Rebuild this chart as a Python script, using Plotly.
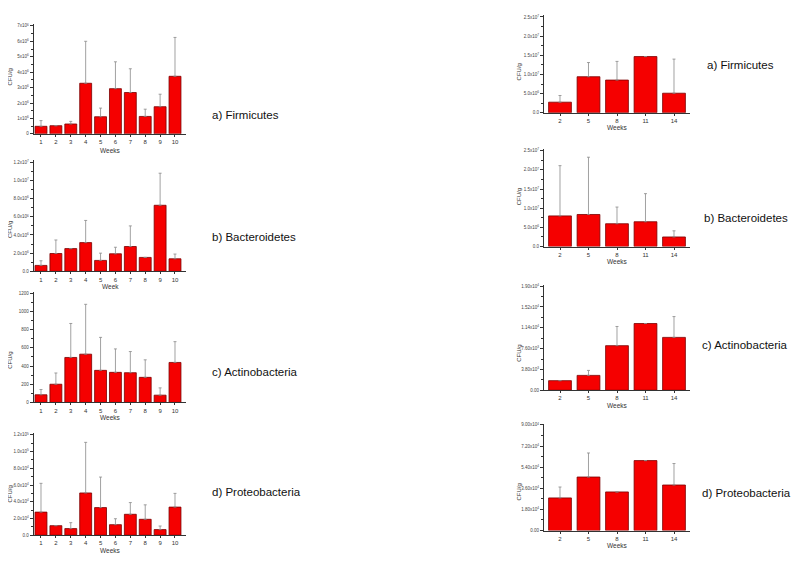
import plotly.graph_objects as go

# ---------------- data ----------------
weeks_left = [1, 2, 3, 4, 5, 6, 7, 8, 9, 10]
weeks_right = [2, 5, 8, 11, 14]

# left column (values in units of the tick multiplier)
firm_left = [0.49, 0.53, 0.64, 3.28, 1.11, 2.93, 2.68, 1.13, 1.76, 3.73]          # x10^6
firm_left_err = [0.37, 0.0, 0.17, 2.72, 0.56, 1.74, 1.54, 0.47, 0.81, 2.52]
bact_left = [0.065, 0.196, 0.25, 0.316, 0.12, 0.193, 0.273, 0.153, 0.727, 0.138]  # x10^7
bact_left_err = [0.051, 0.149, 0.0, 0.244, 0.08, 0.072, 0.227, 0.0, 0.353, 0.052]
actino_left = [84, 200, 495, 531, 353, 331, 327, 276, 80, 440]
actino_left_err = [58, 124, 374, 549, 363, 258, 233, 193, 80, 229]
proteo_left = [0.276, 0.114, 0.079, 0.505, 0.33, 0.126, 0.25, 0.19, 0.067, 0.336]  # x10^5
proteo_left_err = [0.344, 0.0, 0.071, 0.605, 0.365, 0.071, 0.14, 0.173, 0.043, 0.164]

# right column
firm_right = [0.276, 0.94, 0.853, 1.466, 0.51]      # x10^7
firm_right_err = [0.174, 0.37, 0.487, 0.0, 0.89]
bact_right = [0.80, 0.836, 0.595, 0.647, 0.25]      # x10^7
bact_right_err = [1.31, 1.494, 0.435, 0.733, 0.16]
actino_right = [1.75, 2.71, 8.14, 12.18, 9.65]      # x10^3
actino_right_err = [0.0, 0.91, 3.5, 0.0, 3.8]
proteo_right = [2.78, 4.56, 3.29, 5.96, 3.88]       # x10^4
proteo_right_err = [0.93, 2.05, 0.0, 0.0, 1.83]

# tick values / labels
firm_left_ticks = [0, 1, 2, 3, 4, 5, 6, 7]
firm_left_labels = ["0"] + [f"{i}x10<sup>6</sup>" for i in range(1, 8)]
bact_left_ticks = [0, 0.2, 0.4, 0.6, 0.8, 1.0, 1.2]
bact_left_labels = ["0.0", "2.0x10<sup>6</sup>", "4.0x10<sup>6</sup>", "6.0x10<sup>6</sup>",
                    "8.0x10<sup>6</sup>", "1.0x10<sup>7</sup>", "1.2x10<sup>7</sup>"]
actino_left_ticks = [0, 200, 400, 600, 800, 1000, 1200]
actino_left_labels = ["0", "200", "400", "600", "800", "1000", "1200"]
proteo_left_ticks = [0, 0.2, 0.4, 0.6, 0.8, 1.0, 1.2]
proteo_left_labels = ["0.0", "2.0x10<sup>4</sup>", "4.0x10<sup>4</sup>", "6.0x10<sup>4</sup>",
                      "8.0x10<sup>4</sup>", "1.0x10<sup>5</sup>", "1.2x10<sup>5</sup>"]
firm_right_ticks = [0, 0.5, 1.0, 1.5, 2.0, 2.5]
firm_right_labels = ["0.0", "5.0x10<sup>6</sup>", "1.0x10<sup>7</sup>", "1.5x10<sup>7</sup>",
                     "2.0x10<sup>7</sup>", "2.5x10<sup>7</sup>"]
bact_right_ticks = [0, 0.5, 1.0, 1.5, 2.0, 2.5]
bact_right_labels = ["0.0", "5.0x10<sup>6</sup>", "1.0x10<sup>7</sup>", "1.5x10<sup>7</sup>",
                     "2.0x10<sup>7</sup>", "2.5x10<sup>7</sup>"]
actino_right_ticks = [0, 3.8, 7.6, 11.4, 15.2, 19.0]
actino_right_labels = ["0.00", "3.80x10<sup>3</sup>", "7.60x10<sup>3</sup>", "1.14x10<sup>4</sup>",
                       "1.52x10<sup>4</sup>", "1.90x10<sup>4</sup>"]
proteo_right_ticks = [0, 1.8, 3.6, 5.4, 7.2, 9.0]
proteo_right_labels = ["0.00", "1.80x10<sup>4</sup>", "3.60x10<sup>4</sup>", "5.40x10<sup>4</sup>",
                       "7.20x10<sup>4</sup>", "9.00x10<sup>4</sup>"]

titles_left = ["a) Firmicutes", "b) Bacteroidetes", "c) Actinobacteria", "d) Proteobacteria"]
titles_right = ["a) Firmicutes", "b) Bacteroidetes", "c) Actinobacteria", "d) Proteobacteria"]
xlabels_left = ["Weeks", "Week", "Weeks", "Weeks"]
xlabels_right = ["Weeks", "Weeks", "Weeks", "Weeks"]

# ---------------- layout geometry (page pixels) ----------------
OFF = 8                      # default body margin of the html page
W, H = 800 - OFF, 561 - OFF  # figure size so it fits the 800x561 window
FONT = "Liberation Sans, Arial, sans-serif"


def px(xp):
    return (xp - OFF) / W


def py(yp):
    return 1 - (yp - OFF) / H


panels = [
    dict(side="L", y=firm_left, e=firm_left_err, tv=firm_left_ticks, tt=firm_left_labels,
         zero=133, top=24, ymax=7.1, title=titles_left[0], tpos=(210, 114), xl=xlabels_left[0], xly=150, yly=76),
    dict(side="L", y=bact_left, e=bact_left_err, tv=bact_left_ticks, tt=bact_left_labels,
         zero=271.7, top=161.7, ymax=1.22, title=titles_left[1], tpos=(210, 237), xl=xlabels_left[1], xly=287, yly=230),
    dict(side="L", y=actino_left, e=actino_left_err, tv=actino_left_ticks, tt=actino_left_labels,
         zero=404, top=294, ymax=1220, title=titles_left[2], tpos=(210, 373), xl=xlabels_left[2], xly=419, yly=362),
    dict(side="L", y=proteo_left, e=proteo_left_err, tv=proteo_left_ticks, tt=proteo_left_labels,
         zero=538, top=436.7, ymax=1.22, title=titles_left[3], tpos=(210, 494), xl=xlabels_left[3], xly=553, yly=497),
    dict(side="R", y=firm_right, e=firm_right_err, tv=firm_right_ticks, tt=firm_right_labels,
         zero=111.7, top=15, ymax=2.55, title=titles_right[0], tpos=(705, 63), xl=xlabels_right[0], xly=127, yly=71),
    dict(side="R", y=bact_right, e=bact_right_err, tv=bact_right_ticks, tt=bact_right_labels,
         zero=246.7, top=150, ymax=2.55, title=titles_right[1], tpos=(702, 218), xl=xlabels_right[1], xly=262, yly=197),
    dict(side="R", y=actino_right, e=actino_right_err, tv=actino_right_ticks, tt=actino_right_labels,
         zero=391.7, top=286.7, ymax=19.3, title=titles_right[2], tpos=(700, 346), xl=xlabels_right[2], xly=407, yly=355),
    dict(side="R", y=proteo_right, e=proteo_right_err, tv=proteo_right_ticks, tt=proteo_right_labels,
         zero=533.3, top=426.7, ymax=9.1, title=titles_right[3], tpos=(700, 495), xl=xlabels_right[3], xly=548, yly=495),
]

# x geometry: left column week1->41px, week10->175px ; right column week2->560px, week14->674px
LX = dict(x=weeks_left, v0=1, p0=41, v1=10, p1=175, rng=(0.5, 10.77), width=0.8, ylab_x=10)
RX = dict(x=weeks_right, v0=2, p0=560, v1=14, p1=674, rng=(0.3, 15.7), width=2.4, ylab_x=519)

fig = go.Figure()
annotations = []
axis_font = dict(family=FONT, size=4.5, color="#444")

for i, p in enumerate(panels, start=1):
    g = LX if p["side"] == "L" else RX
    ppu = (g["p1"] - g["p0"]) / (g["v1"] - g["v0"])
    xl_px = g["p0"] + (g["rng"][0] - g["v0"]) * ppu
    xr_px = g["p0"] + (g["rng"][1] - g["v0"]) * ppu
    yppu = (p["zero"] - p["top"]) / p["tv"][-1]
    ytop_px = p["zero"] - p["ymax"] * yppu

    fig.add_trace(go.Bar(
        x=g["x"], y=p["y"], width=g["width"],
        marker=dict(color="#f50000", line=dict(color="#7a0000", width=0.8)),
        error_y=dict(type="data", array=p["e"], arrayminus=[0] * len(p["e"]), symmetric=False,
                     color="#8a8a8a", thickness=0.8, width=1.5),
        xaxis=f"x{i}", yaxis=f"y{i}", showlegend=False,
    ))
    xa = dict(domain=[px(xl_px), px(xr_px)], range=list(g["rng"]), anchor=f"y{i}",
              tickvals=g["x"], ticktext=[str(w) for w in g["x"]],
              tickfont=dict(family=FONT, size=6, color="#333"),
              showline=True, linecolor="#333", linewidth=1, ticks="outside", ticklen=2,
              tickcolor="#333", showgrid=False, zeroline=False, fixedrange=True)
    ya = dict(domain=[py(p["zero"]), py(ytop_px)], range=[0, p["ymax"]], anchor=f"x{i}",
              tickvals=p["tv"], ticktext=p["tt"], tickfont=axis_font,
              showline=True, linecolor="#333", linewidth=1, ticks="outside", ticklen=3,
              tickcolor="#333", showgrid=False, zeroline=False, fixedrange=True,
              minor=dict(ticks="outside", ticklen=1.5, tickcolor="#333",
                         tickvals=[(a + b) / 2 for a, b in zip(p["tv"][:-1], p["tv"][1:])]))
    sfx = "" if i == 1 else str(i)
    fig.update_layout(**{f"xaxis{sfx}": xa, f"yaxis{sfx}": ya})

    # panel title
    annotations.append(dict(x=px(p["tpos"][0]), y=py(p["tpos"][1]), xref="paper", yref="paper",
                            text=p["title"], showarrow=False, xanchor="left", yanchor="middle",
                            font=dict(family=FONT, size=11.5, color="#111")))
    # x label
    annotations.append(dict(x=px((xl_px + xr_px) / 2), y=py(p["xly"]), xref="paper", yref="paper",
                            text=p["xl"], showarrow=False, xanchor="center", yanchor="middle",
                            font=dict(family=FONT, size=6.5, color="#333")))
    # y label
    annotations.append(dict(x=px(g["ylab_x"]), y=py(p["yly"]), xref="paper", yref="paper",
                            text="CFU/g", textangle=-90, showarrow=False, xanchor="center",
                            yanchor="middle", font=dict(family=FONT, size=6, color="#333")))

fig.update_layout(
    width=W, height=H, margin=dict(l=0, r=0, t=0, b=0),
    paper_bgcolor="white", plot_bgcolor="white",
    annotations=annotations, showlegend=False, bargap=0.2,
    font=dict(family=FONT),
)

fig.write_html("out.html", config={"displayModeBar": False})
